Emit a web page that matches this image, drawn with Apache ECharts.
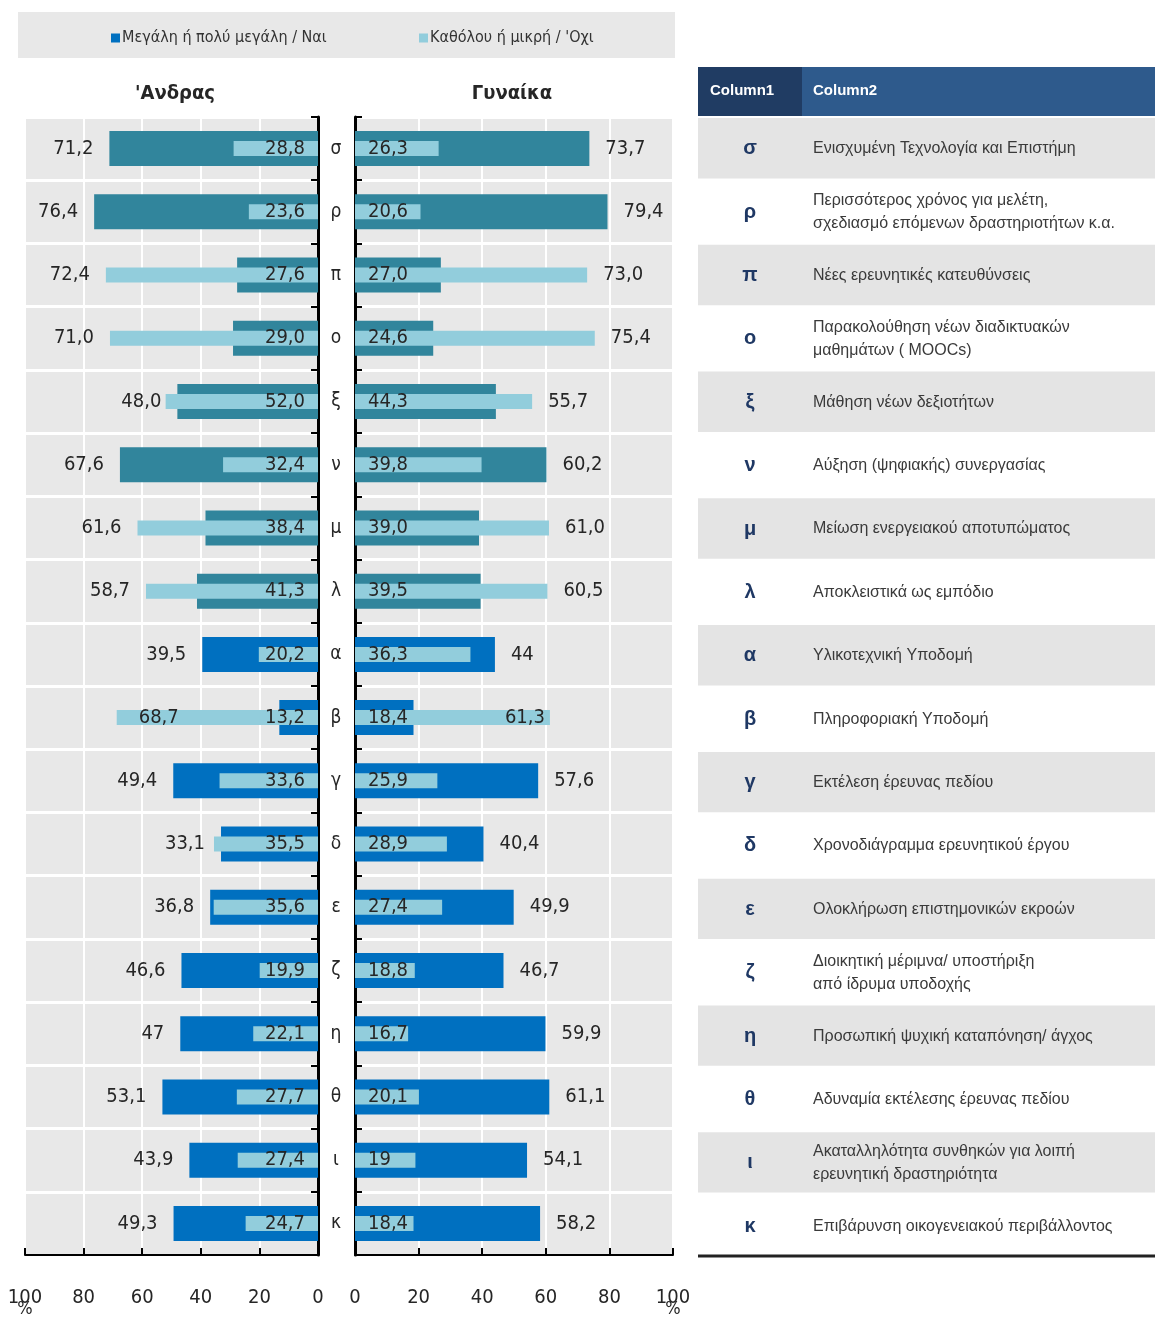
<!DOCTYPE html>
<html>
<head>
<meta charset="utf-8">
<title>Άνδρας / Γυναίκα</title>
<script src="https://cdn.jsdelivr.net/npm/echarts@6/dist/echarts.min.js"></script>
<style>
    html, body { margin: 0; padding: 0; background: #fff; }
    #chart { width: 1155px; height: 1318px; }
</style>
</head>
<body>
<div id="chart"></div>
<script>
    // κατηγορίες (από πάνω προς τα κάτω)
    const categories = ['σ','ρ','π','ο','ξ','ν','μ','λ','α','β','γ','δ','ε','ζ','η','θ','ι','κ'];

    // 'Ανδρας
    const menBig   = ['71.2','76.4','27.6','29.0','48.0','67.6','38.4','41.3','39.5','13.2','49.4','33.1','36.8','46.6','47','53.1','43.9','49.3'];
    const menSmall = ['28.8','23.6','72.4','71.0','52.0','32.4','61.6','58.7','20.2','68.7','33.6','35.5','35.6','19.9','22.1','27.7','27.4','24.7'];

    // Γυναίκα
    const womenBig   = ['73.7','79.4','27.0','24.6','44.3','60.2','39.0','39.5','44','18.4','57.6','40.4','49.9','46.7','59.9','61.1','54.1','58.2'];
    const womenSmall = ['26.3','20.6','73.0','75.4','55.7','39.8','61.0','60.5','36.3','61.3','25.9','28.9','27.4','18.8','16.7','20.1','19','18.4'];

    const xTicks = [0, 20, 40, 60, 80, 100];

    const descriptions = [
        'Ενισχυμένη Τεχνολογία και Επιστήμη',
        'Περισσότερος χρόνος για μελέτη,\nσχεδιασμό επόμενων δραστηριοτήτων κ.α.',
        'Νέες ερευνητικές κατευθύνσεις',
        'Παρακολούθηση νέων διαδικτυακών\nμαθημάτων ( MOOCs)',
        'Μάθηση νέων δεξιοτήτων',
        'Αύξηση (ψηφιακής) συνεργασίας',
        'Μείωση ενεργειακού αποτυπώματος',
        'Αποκλειστικά ως εμπόδιο',
        'Υλικοτεχνική Υποδομή',
        'Πληροφοριακή Υποδομή',
        'Εκτέλεση έρευνας πεδίου',
        'Χρονοδιάγραμμα ερευνητικού έργου',
        'Ολοκλήρωση επιστημονικών εκροών',
        'Διοικητική μέριμνα/ υποστήριξη\nαπό ίδρυμα υποδοχής',
        'Προσωπική ψυχική καταπόνηση/ άγχος',
        'Αδυναμία εκτέλεσης έρευνας πεδίου',
        'Ακαταλληλότητα συνθηκών για λοιπή\nερευνητική δραστηριότητα',
        'Επιβάρυνση οικογενειακού περιβάλλοντος'
    ];

    const BIG = 'Μεγάλη ή πολύ μεγάλη / Ναι';
    const SMALL = "Καθόλου ή μικρή / 'Οχι";

    const NARROW = "'Liberation Sans Narrow', 'Arial Narrow', 'DejaVu Sans Condensed', sans-serif";
    const SANS = "'Liberation Sans', Arial, sans-serif";
    const TEAL = '#31859c', BLUE = '#0070c0', LIGHT = '#92cddc', GRAY = '#e8e8e8', TXT = '#262626';
    const tealRows = 8; // οι πρώτες 8 γραμμές είναι πράσινο-μπλε

    const gridTop = 117, gridBottom = 1258;
    const rowH = (gridBottom - gridTop) / categories.length;

    function fmt(v) { return String(v).replace('.', ','); }
    function lbl(v, pos, dist) {
        return { show: true, position: pos, distance: dist, formatter: fmt(v),
                 fontSize: 20, fontFamily: NARROW, color: TXT };
    }
    // ποια ετικέτα μπαίνει έξω από τη μπάρα
    function placement(big, small) {
        const b = +big, s = +small;
        if (b < 20) return { big: 'inner', small: 'end' };
        if (s > b + 10) return { big: 'inner', small: 'outer' };
        return { big: 'outer', small: 'inner' };
    }

    function sideSeries(big, small, gi, isLeft) {
        const pos = isLeft
            ? { outer: 'left', inner: 'insideRight', end: 'insideLeft' }
            : { outer: 'right', inner: 'insideLeft', end: 'insideRight' };
        const dist = { outer: 16, inner: 13, end: isLeft ? 22 : 5 };
        const plc = big.map((v, i) => placement(v, small[i]));
        return [
            {
                name: BIG, type: 'bar', xAxisIndex: gi, yAxisIndex: gi * 2,
                barWidth: 35, barGap: '-100%', z: 2,
                itemStyle: { color: BLUE },
                data: big.map((v, i) => ({ value: v, itemStyle: { color: i < tealRows ? TEAL : BLUE } }))
            },
            {
                name: SMALL, type: 'bar', xAxisIndex: gi, yAxisIndex: gi * 2 + 1,
                barWidth: 15, z: 3,
                itemStyle: { color: LIGHT },
                data: small.map((v, i) => ({ value: v, label: lbl(v, pos[plc[i].small], dist[plc[i].small]) }))
            },
            {
                // διαφανείς μπάρες μόνο για τις ετικέτες της σκούρας σειράς (πάνω από τις ανοιχτές)
                name: 'lab' + gi, type: 'bar', xAxisIndex: gi, yAxisIndex: gi * 2,
                barWidth: 35, barGap: '-100%', z: 4, silent: true,
                itemStyle: { color: 'rgba(0,0,0,0)' },
                data: big.map((v, i) => ({ value: v, label: lbl(v, pos[plc[i].big], dist[plc[i].big]) }))
            }
        ];
    }

    function xAxis(gi, inverse) {
        return {
            type: 'value', gridIndex: gi, min: 0, max: 100, interval: 20, inverse: inverse,
            axisLine: { show: true, lineStyle: { color: '#000', width: 2 } },
            axisTick: { show: true, inside: true, length: 7, lineStyle: { color: '#000', width: 2 } },
            splitLine: { show: true, lineStyle: { color: '#fff', width: 2 } },
            axisLabel: {
                margin: 33,
                customValues: xTicks,
                formatter: v => v === 100 ? '{v|100}\n{p|%}' : '{v|' + v + '}',
                rich: {
                    v: { fontSize: 20, lineHeight: 20, fontFamily: NARROW, color: TXT },
                    p: { fontSize: 18, lineHeight: 2, fontFamily: NARROW, color: TXT }
                }
            }
        };
    }

    function yAxisMain(gi, position, showLabel) {
        return {
            type: 'category', gridIndex: gi, data: categories, inverse: true, position: position,
            axisLine: { show: true, lineStyle: { color: '#000', width: 3 } },
            axisTick: { show: true, inside: true, length: 7, interval: 0, lineStyle: { color: '#000', width: 2 } },
            splitLine: { show: true, interval: 0, lineStyle: { color: '#fff', width: 3 } },
            axisLabel: { show: showLabel, interval: 0, margin: 18, align: 'center',
                         fontSize: 19, fontFamily: NARROW, color: TXT }
        };
    }
    function yAxisHidden(gi) {
        return { type: 'category', gridIndex: gi, data: categories, inverse: true, show: false };
    }

    // πίνακας δεξιά
    const tableX = 698, tableW = 457, col2X = 802;
    const graphics = [
        { type: 'rect', z: -1, shape: { x: 18, y: 12, width: 657, height: 46 }, style: { fill: GRAY } },
        { type: 'text', x: 175, y: 94, style: { text: "'Ανδρας", font: 'bold 20px ' + NARROW, fill: TXT,
            align: 'center', verticalAlign: 'middle', textAlign: 'center', textVerticalAlign: 'middle' } },
        { type: 'text', x: 512, y: 94, style: { text: 'Γυναίκα', font: 'bold 20px ' + NARROW, fill: TXT,
            align: 'center', verticalAlign: 'middle', textAlign: 'center', textVerticalAlign: 'middle' } },
        { type: 'rect', shape: { x: tableX, y: 67, width: col2X - tableX, height: 49 }, style: { fill: '#203c63' } },
        { type: 'rect', shape: { x: col2X, y: 67, width: tableX + tableW - col2X, height: 49 }, style: { fill: '#2e5a8c' } },
        { type: 'text', x: 710, y: 91, style: { text: 'Column1', font: 'bold 15px ' + SANS, fill: '#fff',
            verticalAlign: 'middle', textVerticalAlign: 'middle' } },
        { type: 'text', x: 813, y: 91, style: { text: 'Column2', font: 'bold 15px ' + SANS, fill: '#fff',
            verticalAlign: 'middle', textVerticalAlign: 'middle' } }
    ];
    categories.forEach((c, i) => {
        const top = gridTop + i * rowH;
        const mid = top + rowH / 2;
        if (i % 2 === 0) {
            graphics.push({ type: 'rect', shape: { x: tableX, y: top + 1, width: tableW, height: rowH - 3 },
                            style: { fill: '#e4e4e4' } });
        }
        graphics.push({ type: 'text', x: 750, y: mid, style: { text: c, font: 'bold 20px ' + SANS, fill: '#1f3864',
            align: 'center', verticalAlign: 'middle', textAlign: 'center', textVerticalAlign: 'middle' } });
        graphics.push({ type: 'text', x: 813, y: mid, style: { text: descriptions[i], font: '16px ' + SANS, fill: '#3a3a3a',
            lineHeight: 23, verticalAlign: 'middle', textVerticalAlign: 'middle' } });
    });
    graphics.push({ type: 'line', shape: { x1: tableX, y1: 1256, x2: tableX + tableW, y2: 1256 },
                    style: { stroke: '#222', lineWidth: 3 } });

    const legendBase = {
        top: 25, icon: 'rect', itemWidth: 9, itemHeight: 9, itemGap: 4,
        textStyle: { fontSize: 16, fontFamily: NARROW, color: '#333', padding: [0, 0, 0, -3] }
    };

    const chart = echarts.init(document.getElementById('chart'));
    chart.setOption({
        animation: false,
        legend: [
            Object.assign({ data: [BIG], left: 106 }, legendBase),
            Object.assign({ data: [SMALL], left: 414 }, legendBase)
        ],
        grid: [
            { left: 25, top: gridTop, width: 293, height: gridBottom - gridTop,
              show: true, backgroundColor: GRAY, borderWidth: 0 },
            { left: 355, top: gridTop, width: 318, height: gridBottom - gridTop,
              show: true, backgroundColor: GRAY, borderWidth: 0 }
        ],
        xAxis: [xAxis(0, true), xAxis(1, false)],
        yAxis: [yAxisMain(0, 'right', true), yAxisHidden(0), yAxisMain(1, 'left', false), yAxisHidden(1)],
        series: [].concat(sideSeries(menBig, menSmall, 0, true), sideSeries(womenBig, womenSmall, 1, false)),
        graphic: graphics
    });
</script>
</body>
</html>
